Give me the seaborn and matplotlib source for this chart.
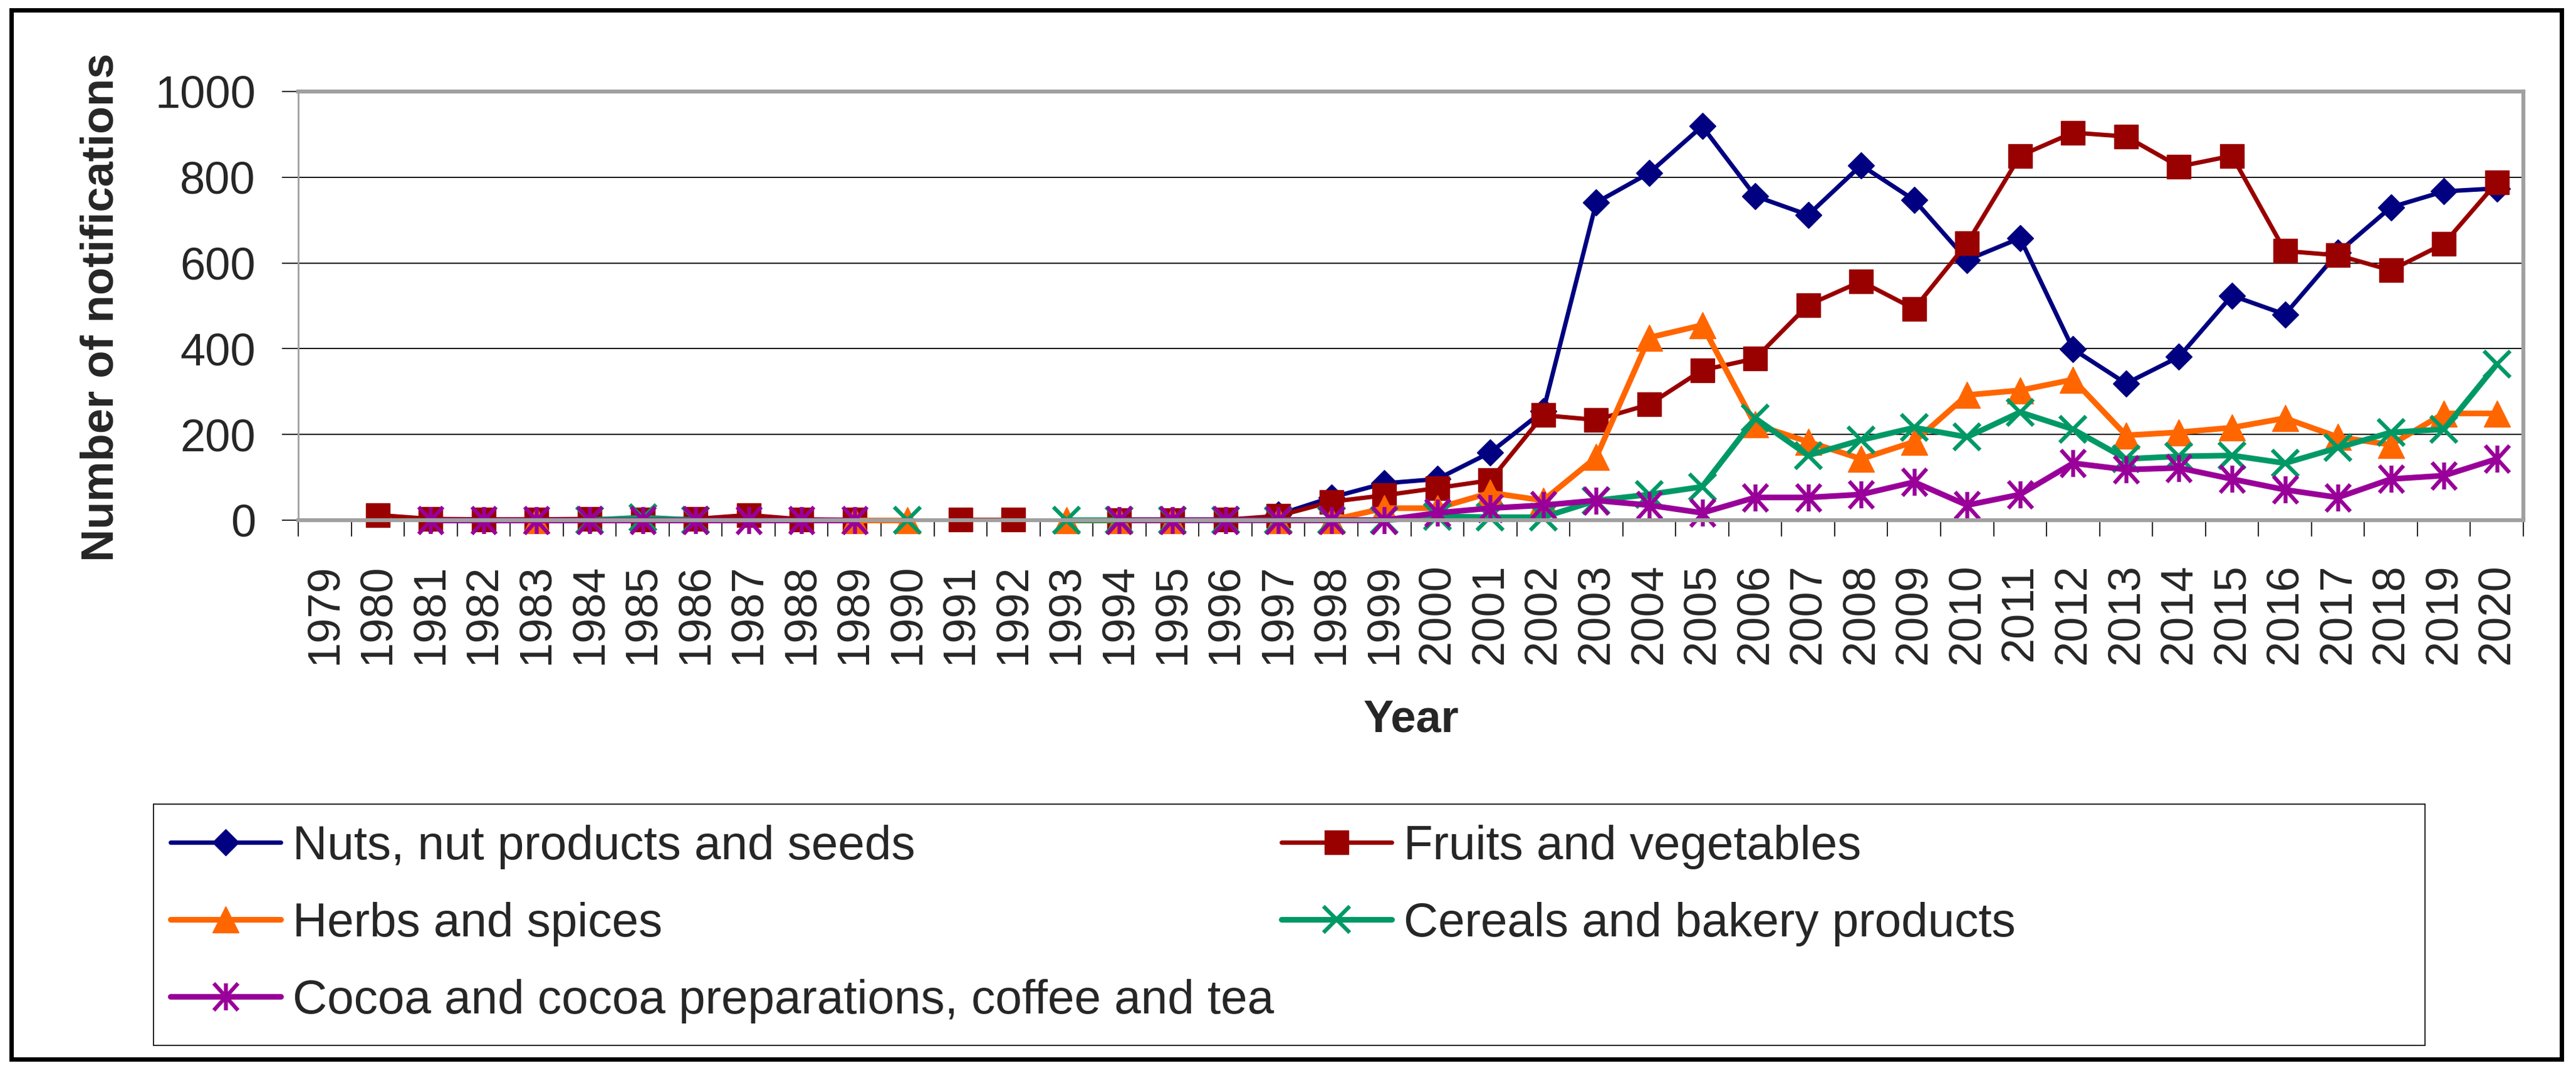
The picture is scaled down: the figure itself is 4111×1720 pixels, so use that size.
import numpy as np
import pandas as pd
import matplotlib
matplotlib.use("Agg")
import matplotlib.pyplot as plt
from matplotlib.lines import Line2D
from matplotlib.patches import Rectangle
from matplotlib.path import Path
import seaborn as sns

nan = np.nan

# Years on the category axis (1979 has no data)
years = list(range(1979, 2021))

# Notifications per product category (nan = no value)
nuts = [nan, nan, 0, nan, nan, 0, nan, nan, nan, nan, 0, nan, nan, nan, nan, nan, 0, nan,
        13, 53, 86, 96, 158, 255, 741, 810, 919, 756, 712, 828, 747, 607, 658, 399, 319,
        381, 524, 480, 624, 730, 767, 774]
fruits = [nan, 12, 3, 2, 2, 3, 2, 3, 12, 2, 1, nan, 1, 1, nan, 0, 0, 1,
          10, 43, 58, 75, 93, 245, 234, 270, 350, 377, 502, 557, 493, 646, 850, 904, 895,
          825, 850, 628, 618, 583, 645, 788]
herbs = [nan, nan, nan, nan, 0, nan, nan, nan, nan, nan, 0, 0, nan, nan, 0, 0, 0, nan,
         0, 0, 28, 28, 64, 46, 147, 426, 455, 223, 183, 143, 183, 292, 303, 328, 198,
         205, 216, 238, 194, 176, 249, 249]
cereals = [nan, nan, nan, nan, nan, 0, 6, 0, nan, nan, nan, 0, nan, nan, 0, 0, 0, 0,
           0, 0, 0, 9, 7, 7, 46, 60, 78, 238, 151, 187, 216, 194, 252, 212, 143,
           149, 151, 133, 169, 205, 212, 364]
cocoa = [nan, nan, 0, 0, 0, 0, 0, 0, 0, 0, 0, nan, nan, nan, nan, 0, 0, 0,
         0, 0, 0, 17, 28, 35, 46, 35, 17, 53, 53, 60, 89, 35, 60, 133, 118,
         122, 96, 71, 53, 96, 104, 143]

labels = ["Nuts, nut products and seeds", "Fruits and vegetables", "Herbs and spices",
          "Cereals and bakery products", "Cocoa and cocoa preparations, coffee and tea"]
colors = ["#000080", "#990000", "#FF6600", "#009966", "#990099"]

# asterisk marker: an X with a vertical bar through it
star = Path([(-0.9, -1), (0.9, 1), (-0.9, 1), (0.9, -1), (0, -1), (0, 1)],
            [Path.MOVETO, Path.LINETO, Path.MOVETO, Path.LINETO, Path.MOVETO, Path.LINETO])

styles = [
    dict(marker="D", markersize=21, linewidth=5, markeredgewidth=1),
    dict(marker="s", markersize=27, linewidth=5, markeredgewidth=1),
    dict(marker="^", markersize=30, linewidth=6.5, markeredgewidth=1),
    dict(marker="x", markersize=30, linewidth=6.5, markeredgewidth=4.5),
    dict(marker=star, markersize=31, linewidth=6.5, markeredgewidth=4.5, markerfacecolor="none"),
]

sns.set_style("white")
plt.rcParams["font.family"] = ["Liberation Sans", "DejaVu Sans"]

W, H = 4111, 1720
fig = plt.figure(figsize=(W / 100, H / 100), dpi=100)
ax = fig.add_axes([476 / W, 1 - 830 / H, (4027 - 476) / W, (830 - 146) / H])

series = [nuts, fruits, herbs, cereals, cocoa]
for vals, col, lab, st in zip(series, colors, labels, styles):
    d = pd.DataFrame({"Year": years, "Count": vals})
    d["seg"] = d["Count"].isna().cumsum()
    d = d.dropna()
    sns.lineplot(data=d, x="Year", y="Count", units="seg", estimator=None,
                 color=col, markeredgecolor=col, ax=ax, legend=False,
                 clip_on=False, **st)

ax.set_xlim(1978.5, 2020.5)
ax.set_ylim(0, 1000)
ax.set_xlabel("")
ax.set_ylabel("")

ax.set_yticks(range(0, 1001, 200))
ax.tick_params(axis="y", labelsize=52, length=19, width=1.2, color="black",
               direction="out", pad=30, left=True)
ax.set_xticks(years)
ax.set_xticklabels([str(y) for y in years], rotation=90)
ax.set_xticks([y - 0.5 for y in years] + [2020.5], minor=True)
ax.tick_params(axis="x", which="major", labelsize=52, length=0, pad=50)
ax.tick_params(axis="x", which="minor", length=19, width=1.2, color="black",
               direction="out", bottom=True)

ax.yaxis.grid(True, color="black", linewidth=1.3)
ax.xaxis.grid(False)
ax.set_axisbelow(True)
ax.axhline(0, color="black", linewidth=1.5, zorder=1.5)
for side in ["top", "right", "bottom"]:
    ax.spines[side].set_color("#A0A0A0")
    ax.spines[side].set_linewidth(4.5)
ax.spines["left"].set_color("#A0A0A0")
ax.spines["left"].set_linewidth(2)

fig.text(162 / W, 1 - 490 / H, "Number of notifications", rotation=90,
         ha="center", va="center", fontsize=52, fontweight="bold")
fig.text(2252 / W, 1 - 1168 / H, "Year", ha="center", va="baseline",
         fontsize=52, fontweight="bold")

# legend: column-wise order so rows read Nuts/Fruits, Herbs/Cereals, Cocoa
handles = [Line2D([], [], color=c, markeredgecolor=c, **s) for c, s in zip(colors, styles)]
order = [0, 2, 4, 1, 3]
fig.legend([handles[i] for i in order], [labels[i] for i in order],
           loc="upper left", bbox_to_anchor=(272 / W, 1 - 1316 / H), ncol=2,
           frameon=False, fontsize=55, handlelength=2.3, handletextpad=0.25,
           columnspacing=0.16, labelspacing=0.68, borderpad=0, borderaxespad=0,
           numpoints=1)
fig.add_artist(Rectangle((245 / W, 1 - 1668 / H), (3870 - 245) / W, (1668 - 1283) / H,
                         transform=fig.transFigure, fill=False, edgecolor="black",
                         linewidth=1.2))
fig.add_artist(Rectangle((18 / W, 1 - 1690 / H), (4088 - 18) / W, (1690 - 16) / H,
                         transform=fig.transFigure, fill=False, edgecolor="black",
                         linewidth=5))

fig.savefig("out.png", dpi=100)
